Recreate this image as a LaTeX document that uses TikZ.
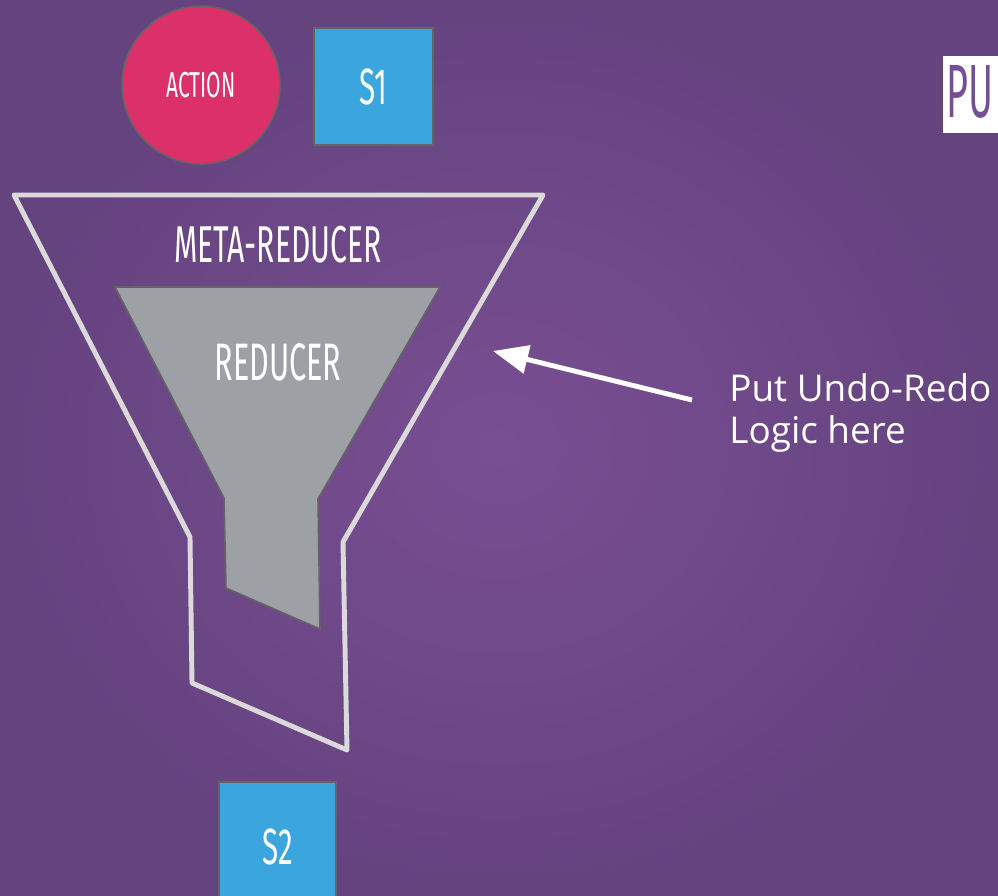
\documentclass[tikz,border=0pt]{standalone}
\usepackage{fontspec}
\setmainfont{Open Sans}
\newfontfamily\condensata[FakeStretch=0.58]{Fira Sans}
\newfontfamily\titolofont[FakeStretch=0.5]{Fira Sans}
\usetikzlibrary{arrows.meta}

\definecolor{sfondoint}{RGB}{121,79,147}
\definecolor{sfondoest}{RGB}{101,67,127}
\definecolor{rosso}{RGB}{219,48,105}
\definecolor{azzurro}{RGB}{59,166,221}
\definecolor{grigio}{RGB}{157,161,166}
\definecolor{bordo}{RGB}{100,100,100}
\definecolor{imbuto}{RGB}{218,218,218}
\definecolor{viola}{RGB}{118,78,150}

\begin{document}
\begin{tikzpicture}[x=0.02cm, y=-0.02cm,
    etichetta/.style={text=white, font=\condensata},
    stato/.style={draw=bordo, line width=0.9pt, fill=azzurro, etichetta,
        font=\condensata\fontsize{29}{29}\selectfont},
    bordoimbuto/.style={draw=imbuto, line width=2.8pt, line join=round}]

    % Sfondo con sfumatura radiale
    \useasboundingbox (0,0) rectangle (998,896);
    \shade[inner color=sfondoint, outer color=sfondoest] (0,0) rectangle (998,896);

    % Azione e stato iniziale
    \node (azione) [circle, draw=bordo, line width=0.9pt, fill=rosso, minimum size=3.16cm,
        etichetta, font=\condensata\fontsize{20.5}{20.5}\selectfont] at (201,85) {ACTION};
    \node (s1) [stato, minimum width=2.38cm, minimum height=2.34cm] at (373.5,86.5) {S1};

    % Titolo al bordo destro
    \fill[white] (943,56) rectangle (1030,133);
    \node (titolo) [anchor=west, inner sep=0pt, text=viola,
        font=\titolofont\fontsize{43}{43}\selectfont] at (946,92) {PU};

    % Imbuto esterno (meta-reducer)
    \draw[bordoimbuto] (14,195) -- (543,195) -- (343,542) -- (347,750)
        -- (192,683) -- (190,537) -- cycle;
    \node (meta) [etichetta, font=\condensata\fontsize{29.5}{29.5}\selectfont] at (278,245) {META-REDUCER};

    % Imbuto interno (reducer)
    \draw[draw=bordo, line width=0.9pt, fill=grigio] (115,287) -- (440,287) -- (318,499)
        -- (320,629) -- (226,588) -- (224,498) -- cycle;
    \node (reducer) [etichetta, font=\condensata\fontsize{30}{30}\selectfont] at (278,362) {REDUCER};

    % Stato finale
    \node (s2) [stato, anchor=north, minimum width=2.34cm, minimum height=2.6cm] at (277.5,781) {S2};

    % Nota e freccia
    \node (nota) [anchor=north west, align=left, text=white, inner sep=0pt,
        font=\fontsize{21}{24}\selectfont] at (729,373) {Put Undo-Redo\\Logic here};
    \coordinate (coda) at (692,400);
    \coordinate (punta) at (493,351);
    \draw[white, line width=2.8pt, -{Triangle[length=20pt, width=16pt]}] (coda) -- (punta);

\end{tikzpicture}
\end{document}
